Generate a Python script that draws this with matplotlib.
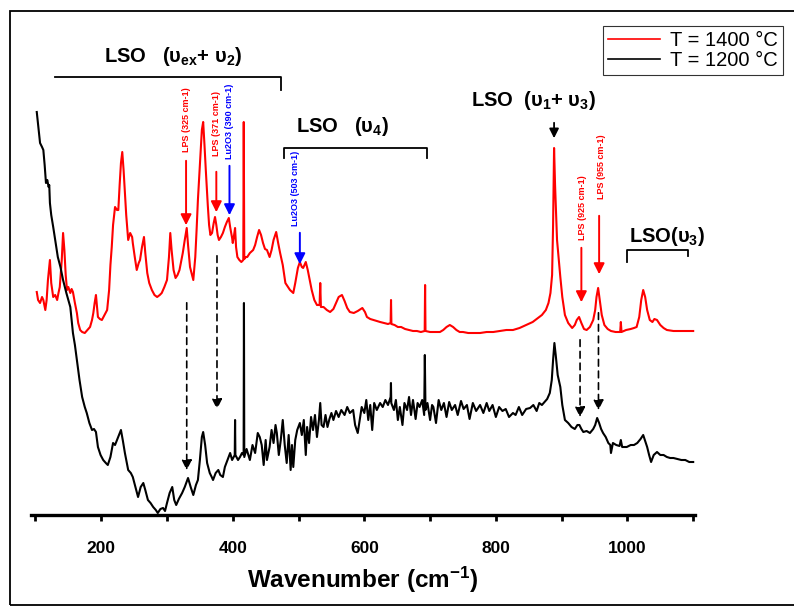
import matplotlib
matplotlib.use("Agg")
import matplotlib.pyplot as plt
from matplotlib.lines import Line2D
from matplotlib.patches import Rectangle

plt.rcParams['font.family'] = ['Liberation Sans', 'DejaVu Sans']
plt.rcParams['mathtext.fontset'] = 'custom'
plt.rcParams['mathtext.rm'] = 'Liberation Sans'
plt.rcParams['mathtext.bf'] = 'Liberation Sans:bold'
plt.rcParams['mathtext.it'] = 'Liberation Sans:italic'

# ---------------- data (wavenumber, intensity in arbitrary units) ----------------
red_wn = [102,104,107,110,112,114,115,117,119,122,124,127,130,133,135,137,140,142,144,146,148,150,153,155,157,160,163,165,168,171,175,179,183,186,188,190,192,194,195,198,201,205,209,212,214,216,218,221,224,226,228,230,232,234,236,238,241,244,247,248,251,254,257,259,262,265,267,270,273,277,281,285,289,292,296,300,303,305,307,310,313,316,319,322,324,327,330,332,335,338,340,343,345,347,350,353,355,357,359,362,364,366,368.5,371,373,375,377,379,382,385,388,391,394,396,399,400,402,403.5,405,407,410,413,416,416.7,417.5,420,422,426,431,434,437,440,443,446,449,452,456,459,462,466,469,472,476,480,484,487,492,495,499,502,505,507,509,511,514,517,520,524,528,532,533,534,538,543,548,553,557,561,566,570,574,578,584,590,597,601,604,609,614,619,624,630,636,640,640.6,641.2,646,651,656,662,668,674,680,686,691.8,692.4,693,700,707,715,720,725,730,735,740,745,750,758,766,776,786,796,806,816,826,836,846,856,864,870,876,880,883,885.5,887,888.5,890,893,898,901,905,910,916,920,923,926.5,930,934,938,943,948,951,953,955.5,958,961,965,970,975,982,989,990,991,998,1005,1010,1014,1018,1021,1024,1027,1030,1034,1038,1041,1045,1050,1055,1060,1070,1080,1090,1100]
red_int = [223,215,212,218,215,208,205,215,235,255,232,218,220,215,222,228,255,282,265,240,225,228,222,226,223,212,202,192,185,183,182,185,188,195,202,212,220,205,198,196,195,200,205,225,250,268,290,308,305,305,330,352,363,345,322,300,275,282,278,272,258,245,252,255,268,278,262,242,232,225,220,218,220,222,228,235,258,282,265,245,237,240,245,255,262,275,287,270,248,240,235,258,285,315,350,385,393,370,345,310,290,280,282,292,298,290,280,275,278,282,288,293,297,288,277,272,280,287,268,258,255,253,255,393,256,258,258,262,265,270,278,285,280,272,266,265,258,265,275,283,272,262,250,232,228,225,222,232,247,253,248,247,250,253,245,235,225,215,210,210,232,208,208,205,203,206,212,218,220,214,207,203,202,204,207,203,198,196,195,194,193,192,191,192,215,191,190,188,188,186,185,184,184,183,184,230,184,183,183,183,185,188,190,188,185,183,183,182,182,182,183,183,184,185,185,187,190,193,197,200,205,212,222,240,290,367,330,275,238,218,200,192,187,190,195,198,192,186,185,188,195,205,218,227,215,200,190,186,184,183,183,193,183,185,186,187,188,198,215,225,218,205,195,193,196,195,190,187,185,184,184,184,184]

black_wn = [102,105,107,110,112,114,116,118,120,121,122,124,127,130,134,138,142,147,153,157,160,163,167,171,175,178,182,186,189,192,195,199,203,207,210,214,218,221,224,227,230,233,236,239,241,245,248,252,256,260,264,267,271,275,279,283,286,290,294,297,300,304,308,311,314,318,323,327,332,336,340,344,347,350,353,355,358,361,365,368,370,374,378,381,385,388,392,396,399,403,403.5,404,408,411,414,416.5,417,417.5,421,426,430,434,438,441,444,447,450,452,456,459,462,465,467,470,473,476,479,482,485,488,490,492,495,498,502,505,508,511,513,516,519,522,525,528,531,533,535,538,541,544,547,550,553,557,561,565,570,574,578,583,586,590,593,596,600,603,606,609,612,615,619,624,628,632,636,640,640.5,641,645,648,651,654,658,661,665,668,671,674,678,681,684,688,691,692,693,696,700,703,705,709,713,717,721,725,729,733,738,742,747,751,756,760,765,770,776,781,786,790,795,800,805,810,815,820,826,830,835,840,846,852,857,862,866,870,874,878,882,885,887,889,891,894,898,901,905,910,915,920,924,927,930,933,938,943,948,951,954,957,960,963,967,971,974,975,978,983,988,990,992,999,1005,1010,1015,1020,1024,1027,1030,1033,1036,1040,1045,1050,1055,1060,1065,1070,1076,1082,1088,1094,1100]
black_int = [403,385,372,368,365,350,332,335,328,330,312,300,288,275,258,248,235,222,208,182,170,155,135,118,108,102,92,85,86,83,68,60,55,52,50,58,72,70,75,80,85,74,62,52,45,42,38,28,18,28,32,25,15,12,8,5,2,6,7,4,12,22,28,15,10,16,22,28,37,28,20,30,35,55,78,83,70,52,42,38,35,42,45,40,38,48,55,62,55,60,95,60,55,58,62,60,212,58,66,55,70,62,82,78,70,50,75,55,68,85,72,90,82,60,75,95,70,52,80,45,70,48,75,85,92,80,95,60,88,72,98,85,100,78,95,112,90,88,100,88,96,102,95,104,98,105,100,108,102,105,90,82,95,108,102,115,95,110,85,112,105,112,108,115,110,118,132,112,105,115,95,108,90,112,105,118,100,115,96,112,108,115,100,160,105,112,95,110,108,92,115,105,112,98,113,105,110,100,114,106,110,96,112,104,110,102,112,104,110,98,108,104,106,98,102,100,108,100,106,107,110,104,112,110,113,116,122,135,155,172,160,140,128,110,95,92,88,86,90,90,86,83,84,82,86,90,97,92,86,82,78,72,70,62,72,70,69,75,68,68,70,70,72,76,80,74,68,60,53,60,63,60,60,58,57,57,56,55,55,53,53]

xticks_major = [200, 400, 600, 800, 1000]
xticks_minor = [100, 300, 500, 700, 900, 1100]
legend_labels = ['T = 1400 °C', 'T = 1200 °C']
series_colors = ['#ff0000', '#000000']

# ---------------- figure ----------------
fig = plt.figure(figsize=(7.94, 6.07), dpi=100)
ax = fig.add_axes([31.5/794, 92/607, 663/794, 504/607])
ax.plot(red_wn, red_int, color=series_colors[0], lw=1.5)
ax.plot(black_wn, black_int, color=series_colors[1], lw=1.5)
ax.set_xlim(94, 1102)
ax.set_ylim(0, 504)

for s in ['top', 'right', 'left']:
    ax.spines[s].set_visible(False)
ax.spines['bottom'].set_linewidth(2.4)
ax.set_yticks([])
ax.set_xticks(xticks_major)
ax.set_xticks(xticks_minor, minor=True)
ax.tick_params(axis='x', which='both', direction='out', length=4, width=2, pad=15)
for lab in ax.get_xticklabels():
    lab.set_fontweight('bold')
    lab.set_fontsize(12.5)
ax.set_xlabel('Wavenumber (cm$^{\\mathbf{-1}}$)', fontsize=17.5, fontweight='bold', labelpad=6)

# ---------------- group labels and brackets ----------------
tkw = dict(fontsize=14.5, fontweight='bold', ha='center', va='center', color='black')
ax.text(309, 458, r'LSO   ($\mathbf{υ_{ex}}$+ $\mathbf{υ_{2}}$)', **tkw)
ax.plot([130, 473.5, 473.5], [438, 438, 425], color='black', lw=1.3)
ax.text(567, 388, r'LSO   ($\mathbf{υ_{4}}$)', **tkw)
ax.plot([478, 478, 696, 696], [357, 367, 367, 357], color='black', lw=1.3)
ax.text(857, 415, r'LSO  ($\mathbf{υ_{1}}$+ $\mathbf{υ_{3}}$)', **tkw)
ax.annotate('', xy=(888.5, 374), xytext=(888.5, 395),
            arrowprops=dict(arrowstyle='-|>', color='black', lw=1.3, mutation_scale=14))
ax.text(1060, 278, r'LSO($\mathbf{υ_{3}}$)', clip_on=False, **tkw)
ax.plot([999, 999, 1092, 1092], [253, 265, 265, 259], color='black', lw=1.3, clip_on=False)

# ---------------- assignment arrows ----------------
assign = [
    ('LPS (325 cm-1)', '#ff0000', 329, 329, 395, 357, 287),
    ('LPS (371 cm-1)', '#ff0000', 375, 375, 391, 346, 300),
    ('Lu2O3 (390 cm-1)', '#0000ff', 395, 395, 394, 352, 297),
    ('Lu2O3 (503 cm-1)', '#0000ff', 496, 502, 327, 285, 248),
    ('LPS (925 cm-1)', '#ff0000', 931, 930, 307, 270, 210),
    ('LPS (955 cm-1)', '#ff0000', 961, 957, 348, 302, 238),
]
for label, col, xt, xa, ytxt, y0, y1 in assign:
    ax.text(xt, ytxt, label, rotation=90, color=col, fontsize=6.5, fontweight='bold',
            ha='center', va='center')
    ax.annotate('', xy=(xa, y1), xytext=(xa, y0),
                arrowprops=dict(arrowstyle='-|>', color=col, lw=1.4, mutation_scale=16))

dashed = [(330, 215, 42), (376, 262, 103), (928, 178, 95), (956, 205, 102)]
for x, y0, y1 in dashed:
    ax.annotate('', xy=(x, y1), xytext=(x, y0),
                arrowprops=dict(arrowstyle='-|>', color='black', lw=1.2, ls=(0, (4, 3)),
                                mutation_scale=15))

# ---------------- legend ----------------
handles = [Line2D([], [], color=c, lw=1.2) for c in series_colors]
leg = fig.legend(handles, legend_labels, loc='upper right', bbox_to_anchor=(783/794, 1 - 26/607),
                 fontsize=14.5, frameon=True, fancybox=False, edgecolor='black',
                 handlelength=2.6, handletextpad=0.5, borderpad=0.25, labelspacing=0.05,
                 borderaxespad=0)
leg.get_frame().set_linewidth(0.8)

# ---------------- outer frame ----------------
fig.add_artist(Rectangle((10/794, 2/607), 1.2, 594/607, transform=fig.transFigure,
                         fill=False, lw=1.3, ec='black', clip_on=False))

fig.savefig('out.png', dpi=100)
